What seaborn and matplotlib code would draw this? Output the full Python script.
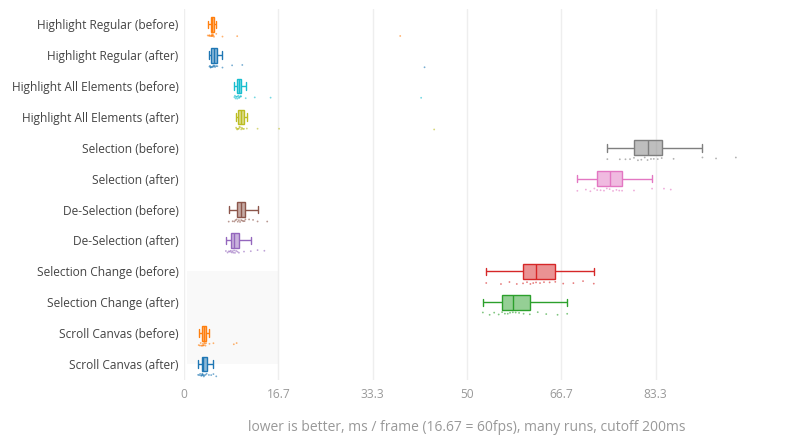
import pandas as pd
import seaborn as sns
import matplotlib.pyplot as plt
from matplotlib.patches import Rectangle
import numpy as np

# Test names, top to bottom
tests = [
    "Highlight Regular (before)", "Highlight Regular (after)",
    "Highlight All Elements (before)", "Highlight All Elements (after)",
    "Selection (before)", "Selection (after)",
    "De-Selection (before)", "De-Selection (after)",
    "Selection Change (before)", "Selection Change (after)",
    "Scroll Canvas (before)", "Scroll Canvas (after)",
]
colors = ["#ff7f0e", "#1f77b4", "#17becf", "#bcbd22", "#7f7f7f", "#e377c2",
          "#8c564b", "#9467bd", "#d62728", "#2ca02c", "#ff7f0e", "#1f77b4"]

# ms / frame samples (17 runs each)
hr_before = [4.2, 4.4, 4.5, 4.6, 4.8, 4.85, 4.9, 4.95, 5.0, 5.05, 5.1, 5.2, 5.3, 5.7, 6.8, 9.4, 38.2]
hr_after = [4.5, 4.6, 4.7, 4.75, 4.8, 5.0, 5.1, 5.2, 5.3, 5.4, 5.5, 5.7, 5.9, 6.8, 8.5, 10.3, 42.5]
ha_before = [8.9, 9.0, 9.1, 9.2, 9.3, 9.4, 9.5, 9.6, 9.7, 9.8, 9.9, 10.0, 10.1, 10.9, 12.5, 15.3, 41.9]
ha_after = [9.2, 9.3, 9.4, 9.5, 9.6, 9.7, 9.8, 9.9, 10.1, 10.2, 10.3, 10.45, 10.6, 11.1, 13.0, 16.8, 44.2]
sel_before = [74.8, 77.0, 78.0, 78.8, 79.5, 80.2, 80.8, 81.4, 81.9, 82.5, 83.0, 83.7, 84.4, 86.5, 91.6, 94.0, 97.5]
sel_after = [69.5, 71.0, 71.8, 72.5, 73.0, 73.6, 74.2, 74.7, 75.2, 75.8, 76.4, 76.9, 77.4, 79.5, 82.7, 84.8, 86.0]
desel_before = [7.9, 8.6, 8.9, 9.1, 9.3, 9.5, 9.7, 9.9, 10.1, 10.3, 10.5, 10.7, 10.85, 11.5, 12.2, 13.0, 14.7]
desel_after = [7.4, 7.7, 7.9, 8.1, 8.25, 8.4, 8.55, 8.7, 8.85, 9.0, 9.2, 9.45, 9.7, 10.6, 11.8, 13.0, 14.2]
change_before = [53.4, 56.0, 57.5, 58.8, 59.9, 60.6, 61.2, 61.7, 62.2, 62.9, 63.6, 64.6, 65.6, 67.0, 68.8, 70.5, 72.4]
change_after = [52.8, 54.0, 54.8, 55.6, 56.2, 56.7, 57.2, 57.6, 58.1, 58.6, 59.2, 60.0, 61.1, 62.5, 64.0, 66.0, 67.7]
scroll_before = [2.6, 2.8, 2.95, 3.05, 3.2, 3.3, 3.35, 3.45, 3.5, 3.6, 3.7, 3.8, 3.9, 4.5, 5.2, 8.8, 9.3]
scroll_after = [2.5, 2.7, 2.85, 3.0, 3.1, 3.2, 3.25, 3.3, 3.4, 3.5, 3.6, 3.8, 4.0, 4.4, 4.8, 5.2, 5.7]

samples = [hr_before, hr_after, ha_before, ha_after, sel_before, sel_after,
           desel_before, desel_after, change_before, change_after,
           scroll_before, scroll_after]

tick_vals = [0, 100 / 6, 200 / 6, 50, 400 / 6, 500 / 6]
tick_labels = ["0", "16.7", "33.3", "50", "66.7", "83.3"]
budget_ms = 100 / 6  # 60fps frame budget
budget_rows = ("Selection Change (before)", "Scroll Canvas (after)")

rows = []
for test, vals in zip(tests, samples):
    for v in vals:
        rows.append({"test": test, "ms": v})
df = pd.DataFrame(rows)

sns.set_theme(style="white")
plt.rcParams["font.family"] = ["Open Sans", "DejaVu Sans"]

fig = plt.figure(figsize=(8, 4.4), dpi=100)
ax = fig.add_axes([0.23, 0.1375, 0.7075, 0.8425])

# shaded frame budget region
y0 = tests.index(budget_rows[0])
y1 = tests.index(budget_rows[1])
ax.add_patch(Rectangle((0.5, y0), budget_ms - 0.5, y1 - y0,
                       facecolor="#f9f9f9", edgecolor="none", zorder=0))
n_patches = len(ax.patches)

sns.boxplot(data=df, x="ms", y="test", hue="test", order=tests, hue_order=tests,
            palette=colors, width=0.48, linewidth=1, showfliers=False,
            dodge=False, legend=False, ax=ax)

# recolour boxes: translucent fill, solid outline in the trace colour
for patch in ax.patches[n_patches:]:
    verts = patch.get_path().vertices
    i = int(round(verts[:, 1].mean()))
    patch.set_facecolor((*plt.matplotlib.colors.to_rgb(colors[i]), 0.5))
    patch.set_edgecolor(colors[i])
for line in ax.lines:
    yd = np.asarray(line.get_ydata(), dtype=float)
    if len(yd) == 0:
        continue
    i = int(round(yd.mean()))
    line.set_color(colors[i])
    line.set_linewidth(1)

# all runs as small dots below each box
n_coll = len(ax.collections)
sns.stripplot(data=df, x="ms", y="test", hue="test", order=tests, hue_order=tests,
              palette=colors, size=1.3, jitter=0.05, alpha=0.6, linewidth=0,
              dodge=False, legend=False, ax=ax)
for coll in ax.collections[n_coll:]:
    coll.set_offsets(coll.get_offsets() + np.array([0, 0.36]))

ax.set_xlim(0, 100)
ax.set_ylim(len(tests) - 0.5, -0.5)
ax.set_xticks(tick_vals, tick_labels)
ax.grid(axis="x", color="#eeeeee", linewidth=1)
ax.grid(axis="y", visible=False)
ax.set_axisbelow(True)
for s in ax.spines.values():
    s.set_visible(False)

ax.tick_params(axis="y", length=0, pad=4, labelsize=8.6, labelcolor="#444444")
ax.tick_params(axis="x", length=0, pad=6, labelsize=8.6, labelcolor="#999999")
ax.set_ylabel("")
ax.set_xlabel("lower is better, ms / frame (16.67 = 60fps), many runs, cutoff 200ms",
              fontsize=10, color="#999999", labelpad=14)

fig.savefig("out.png", dpi=100)
